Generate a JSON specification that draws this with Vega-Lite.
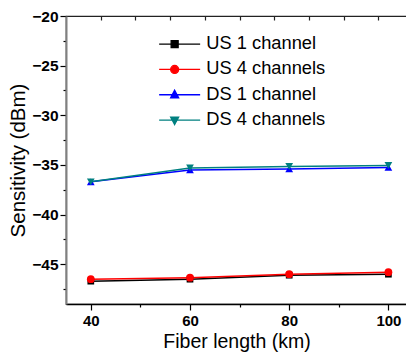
{
  "$schema": "https://vega.github.io/schema/vega-lite/v6.json",
  "width": 341,
  "height": 288,
  "autosize": {"type": "none"},
  "padding": {"left": 66, "top": 16, "right": 0, "bottom": 50},
  "background": "white",
  "config": {"view": {"stroke": "#222222", "strokeWidth": 1.2}, "font": "Liberation Sans"},
  "data": {"values": [
    {"series": "US 1 channel", "x": 40, "y": -46.7},
    {"series": "US 1 channel", "x": 60, "y": -46.5},
    {"series": "US 1 channel", "x": 80, "y": -46.1},
    {"series": "US 1 channel", "x": 100, "y": -46.0},
    {"series": "US 4 channels", "x": 40, "y": -46.5},
    {"series": "US 4 channels", "x": 60, "y": -46.35},
    {"series": "US 4 channels", "x": 80, "y": -46.0},
    {"series": "US 4 channels", "x": 100, "y": -45.8},
    {"series": "DS 1 channel", "x": 40, "y": -36.7},
    {"series": "DS 1 channel", "x": 60, "y": -35.5},
    {"series": "DS 1 channel", "x": 80, "y": -35.4},
    {"series": "DS 1 channel", "x": 100, "y": -35.25},
    {"series": "DS 4 channels", "x": 40, "y": -36.7},
    {"series": "DS 4 channels", "x": 60, "y": -35.3},
    {"series": "DS 4 channels", "x": 80, "y": -35.15},
    {"series": "DS 4 channels", "x": 100, "y": -35.05}
  ]},
  "resolve": {"scale": {"x": "independent", "y": "independent"}, "axis": {"x": "independent", "y": "independent"}},
  "layer": [
    {
      "mark": {"type": "line", "strokeWidth": 1.5},
      "encoding": {
        "x": {"field": "x", "type": "quantitative",
          "scale": {"domain": [35, 103.75], "nice": false, "zero": false},
          "axis": {
            "orient": "bottom", "grid": false,
            "values": [40, 50, 60, 70, 80, 90, 100],
            "labelExpr": "datum.value % 20 === 0 ? datum.label : ''",
            "tickSize": {"condition": {"test": "datum.value % 20 === 0", "value": 6}, "value": 3},
            "tickColor": "black", "tickWidth": 1.2,
            "domainColor": "black", "domainWidth": 1.5,
            "labelFont": "Liberation Sans", "labelFontWeight": "bold", "labelFontSize": 15, "labelColor": "black", "labelPadding": 3,
            "title": "Fiber length (km)", "titleFont": "Liberation Sans", "titleFontWeight": "normal", "titleFontSize": 19.5, "titleColor": "black", "titlePadding": 4
          }},
        "y": {"field": "y", "type": "quantitative",
          "scale": {"domain": [-49, -20], "nice": false, "zero": false},
          "axis": {
            "orient": "left", "grid": false,
            "values": [-47.5, -45, -42.5, -40, -37.5, -35, -32.5, -30, -27.5, -25, -22.5, -20],
            "labelExpr": "datum.value % 5 === 0 ? datum.label : ''",
            "tickSize": {"condition": {"test": "datum.value % 5 === 0", "value": 6}, "value": 3},
            "tickColor": "black", "tickWidth": 1.2,
            "domainColor": "#808080", "domainWidth": 2,
            "labelFont": "Liberation Sans", "labelFontWeight": "bold", "labelFontSize": 15.5, "labelColor": "black", "labelPadding": 2,
            "title": "Sensitivity (dBm)", "titleFont": "Liberation Sans", "titleFontWeight": "normal", "titleFontSize": 20.5, "titleColor": "black", "titlePadding": 3
          }},
        "color": {"field": "series", "type": "nominal",
          "scale": {"domain": ["US 1 channel", "US 4 channels", "DS 1 channel", "DS 4 channels"], "range": ["#000000", "#ff0000", "#0000ff", "#008080"]},
          "legend": {
            "orient": "none", "legendX": 120, "legendY": 19, "title": null, "padding": 0,
            "symbolSize": 100, "labelOffset": 2, "rowPadding": 6.3,
            "labelFont": "Liberation Sans", "labelFontSize": 18.3, "labelColor": "black",
            "encode": {"symbols": {"update": {
              "shape": {"signal": "datum.value === 'US 1 channel' ? 'M-7.2,0H1M-4.8,-0.7H-3.4V0.7H-4.8Z' : datum.value === 'US 4 channels' ? 'M-7.2,0H1M-4.9,0A0.8,0.8 0 1,0 -3.3,0A0.8,0.8 0 1,0 -4.9,0Z' : datum.value === 'DS 1 channel' ? 'M-7.2,0H1M-4.1,-0.9L-3.3,0.6L-4.9,0.6Z' : 'M-7.2,0H1M-4.1,0.9L-3.3,-0.6L-4.9,-0.6Z'"},
              "fill": {"signal": "datum.value === 'US 1 channel' ? '#000000' : datum.value === 'US 4 channels' ? '#ff0000' : datum.value === 'DS 1 channel' ? '#0000ff' : '#008080'"},
              "stroke": {"signal": "datum.value === 'US 1 channel' ? '#000000' : datum.value === 'US 4 channels' ? '#ff0000' : datum.value === 'DS 1 channel' ? '#0000ff' : '#008080'"},
              "strokeWidth": {"value": 1.3},
              "size": {"value": 100},
              "opacity": {"value": 1}
            }}}
          }},
        "order": {"field": "x", "type": "quantitative"}
      }
    },
    {
      "transform": [{"filter": "datum.series === 'US 1 channel'"}],
      "mark": {"type": "point", "filled": true, "opacity": 1, "shape": "square", "size": 45, "color": "#000000"},
      "encoding": {
        "x": {"field": "x", "type": "quantitative", "scale": {"domain": [35, 103.75], "nice": false, "zero": false},
          "axis": {
            "orient": "top", "grid": false, "title": null, "domain": false, "labels": false,
            "values": [42, 49, 56, 63, 70, 77, 84, 91, 98],
            "offset": -4,
            "tickSize": 4,
            "tickColor": "#222222", "tickWidth": 1.2
          }},
        "y": {"field": "y", "type": "quantitative", "scale": {"domain": [-49, -20], "nice": false, "zero": false}, "axis": null}
      }
    },
    {
      "transform": [{"filter": "datum.series === 'US 4 channels'"}],
      "mark": {"type": "point", "filled": true, "opacity": 1, "shape": "circle", "size": 60, "color": "#ff0000"},
      "encoding": {
        "x": {"field": "x", "type": "quantitative", "scale": {"domain": [35, 103.75], "nice": false, "zero": false}, "axis": null},
        "y": {"field": "y", "type": "quantitative", "scale": {"domain": [-49, -20], "nice": false, "zero": false}, "axis": null}
      }
    },
    {
      "transform": [{"filter": "datum.series === 'DS 1 channel'"}],
      "mark": {"type": "point", "filled": true, "opacity": 1, "shape": "triangle-up", "size": 60, "color": "#0000ff"},
      "encoding": {
        "x": {"field": "x", "type": "quantitative", "scale": {"domain": [35, 103.75], "nice": false, "zero": false}, "axis": null},
        "y": {"field": "y", "type": "quantitative", "scale": {"domain": [-49, -20], "nice": false, "zero": false}, "axis": null}
      }
    },
    {
      "transform": [{"filter": "datum.series === 'DS 4 channels'"}],
      "mark": {"type": "point", "filled": true, "opacity": 1, "shape": "triangle-down", "size": 60, "color": "#008080"},
      "encoding": {
        "x": {"field": "x", "type": "quantitative", "scale": {"domain": [35, 103.75], "nice": false, "zero": false}, "axis": null},
        "y": {"field": "y", "type": "quantitative", "scale": {"domain": [-49, -20], "nice": false, "zero": false}, "axis": null}
      }
    }
  ]
}
